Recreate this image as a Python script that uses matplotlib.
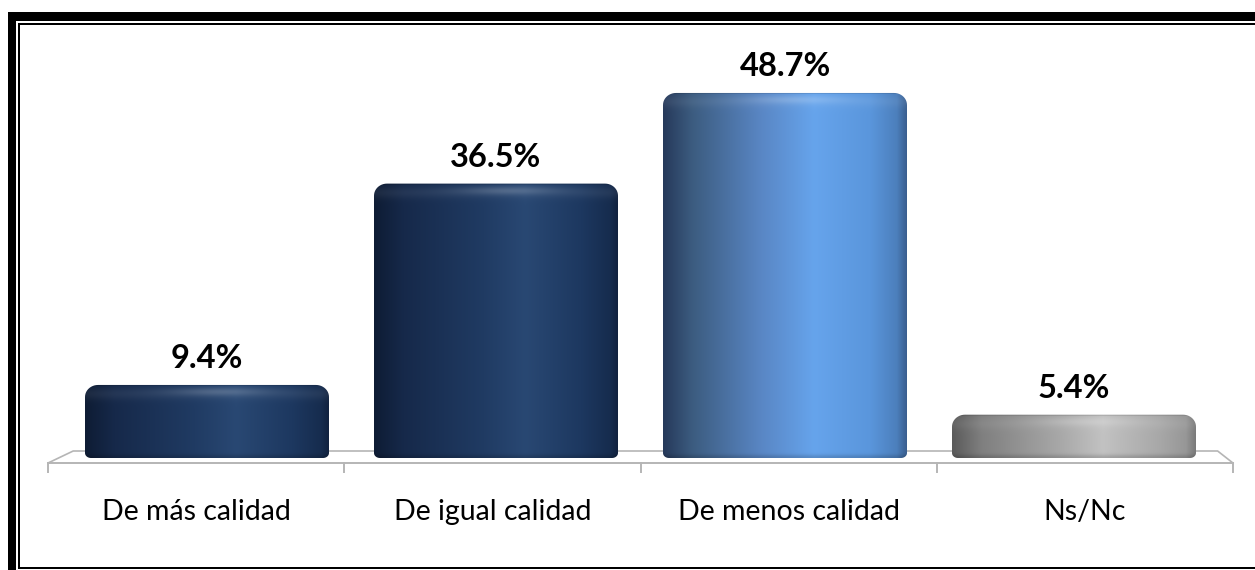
import numpy as np
import matplotlib
matplotlib.use("Agg")
import matplotlib.pyplot as plt
from matplotlib.patches import Polygon, Rectangle
from matplotlib.colors import to_rgb

categories = ["De más calidad", "De igual calidad", "De menos calidad", "Ns/Nc"]
values = [9.4, 36.5, 48.7, 5.4]
value_labels = [f"{v:.1f}%" for v in values]

# horizontal shading stops (position across the cylinder, colour)
navy = [(0.0, "#0e1c34"), (0.12, "#16294a"), (0.45, "#203b63"), (0.62, "#294873"),
        (0.85, "#1d3860"), (0.97, "#162c4e"), (1.0, "#11223f")]
blue = [(0.0, "#26395a"), (0.12, "#3c5c80"), (0.4, "#5986c4"), (0.62, "#66a4ec"),
        (0.85, "#5a96dc"), (0.96, "#4c7fbc"), (1.0, "#3a5f90")]
grey = [(0.0, "#5a5a5a"), (0.12, "#7f7f7f"), (0.45, "#a9a9a9"), (0.62, "#c2c2c2"),
        (0.85, "#a8a8a8"), (0.96, "#979797"), (1.0, "#7a7a7a")]
shades = [navy, navy, blue, grey]

W, H = 1255, 570
DPI = 100
X0, DX = 207.0, 289.0   # pixel of first category, pixels per category
Y0, DY = 454.8, 7.43    # pixel of 0 %, pixels per percent

fig = plt.figure(figsize=(W / DPI, H / DPI), dpi=DPI)
ax = fig.add_axes([0, 0, 1, 1])
ax.set_xlim(-X0 / DX, (W - X0) / DX)
ax.set_ylim((Y0 - H) / DY, Y0 / DY)
ax.axis("off")

half_w = 122 / DX
base = -3.2 / DY


def arc(cx, cy, rx, ry, a0, a1, n=12):
    t = np.linspace(a0, a1, n)
    return np.column_stack([cx + rx * np.cos(t), cy + ry * np.sin(t)])


def outline(xc, top):
    # rounded-rectangle silhouette of a cylinder in data units
    rtx, rty = 13 / DX, 12 / DY
    rbx, rby = 6 / DX, 5 / DY
    l, r = xc - half_w, xc + half_w
    pts = np.vstack([
        arc(l + rbx, base + rby, rbx, rby, np.pi, 1.5 * np.pi),
        arc(r - rbx, base + rby, rbx, rby, 1.5 * np.pi, 2 * np.pi),
        arc(r - rtx, top - rty, rtx, rty, 0, 0.5 * np.pi),
        arc(l + rtx, top - rty, rtx, rty, 0.5 * np.pi, np.pi),
    ])
    return pts


def shading(stops, height_px):
    nx = 300
    ny = max(int(height_px), 10)
    u = np.linspace(0, 1, nx)
    pos = [s[0] for s in stops]
    cols = np.array([to_rgb(s[1]) for s in stops])
    row = np.stack([np.interp(u, pos, cols[:, k]) for k in range(3)], axis=1)
    img = np.repeat(row[None, :, :], ny, axis=0)
    d = np.arange(ny)[:, None]           # pixels from top
    # soft rim highlight near the top edge
    hl = 0.16 * np.exp(-((d - 7) / 4.0) ** 2) * np.exp(-((u[None, :] - 0.55) / 0.2) ** 2)
    img = img + (1 - img) * hl[:, :, None]
    # bevel: lighter band just under the lid, slightly darker top line
    bev = 0.06 * np.exp(-((d - 9) / 6.0) ** 2)
    img = img + (1 - img) * bev[:, :, None]
    img[:2] *= 0.9
    # darker lower rim
    db = (ny - 1 - d)
    img = img * (1 - 0.15 * np.exp(-(db / 3.0) ** 2))[:, :, None]
    return np.clip(img, 0, 1)


# floor of the 3-D plot area
def front(x):
    return 1.5 + (x - 1.5) * 1.025


def back(x):
    return 1.517 + (x - 1.5) * 0.99


y_front = (Y0 - 463) / DY
y_back = (Y0 - 451) / DY
n = len(categories)
floor_col = "#b5b5b5"
ax.plot([front(-0.5), back(-0.5), back(n - 0.5), front(n - 0.5)],
        [y_front, y_back, y_back, y_front], color=floor_col, lw=1.2, zorder=1)
ax.plot([front(-0.5), front(n - 0.5)], [y_front, y_front], color=floor_col, lw=1.4, zorder=1)
for k in range(n + 1):
    xt = front(k - 0.5)
    ax.plot([xt, xt], [y_front, y_front - 9 / DY], color=floor_col, lw=1.4, zorder=1)

for i, (v, lab) in enumerate(zip(values, value_labels)):
    poly = Polygon(outline(i, v), closed=True, facecolor="none", edgecolor="none")
    ax.add_patch(poly)
    img = shading(shades[i], (v - base) * DY)
    im = ax.imshow(img, extent=(i - half_w, i + half_w, base, v), aspect="auto",
                   interpolation="bilinear", zorder=2)
    im.set_clip_path(poly)
    ax.annotate(lab, (i, v), xytext=(0, 26.5 * 72 / DPI), textcoords="offset points",
                ha="center", va="center", fontsize=23.5, fontweight="bold",
                family="Lato", color="black", zorder=3)

for i, cat in enumerate(categories):
    ax.text(front(i), (Y0 - 512) / DY, cat, ha="center", va="center",
            fontsize=20.5, family="Lato", color="black")


# double black frame around the chart
def px_rect(x0, y0, x1, y1):
    fig.add_artist(Rectangle((x0 / W, 1 - y1 / H), (x1 - x0) / W, (y1 - y0) / H,
                             transform=fig.transFigure, facecolor="black",
                             edgecolor="none", zorder=5))


px_rect(8, 12, 16, H)
px_rect(8, 12, W, 21)
px_rect(18, 23, 20, 569)
px_rect(18, 23, W, 25)
px_rect(18, 567, W, 569)

fig.savefig("out.png", dpi=DPI)
